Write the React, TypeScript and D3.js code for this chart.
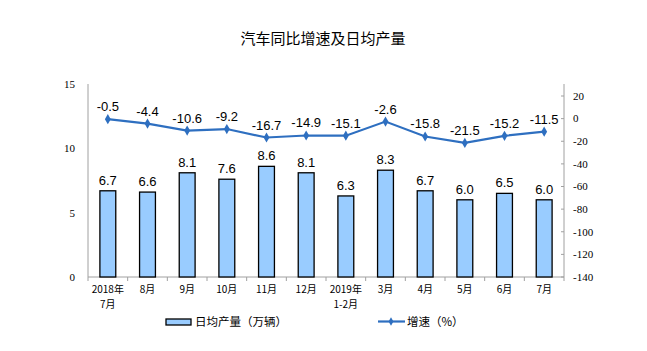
import * as d3 from "d3";

const categories = [
  ["2018年", "7月"],
  ["8月"],
  ["9月"],
  ["10月"],
  ["11月"],
  ["12月"],
  ["2019年", "1-2月"],
  ["3月"],
  ["4月"],
  ["5月"],
  ["6月"],
  ["7月"],
];
const dailyOutput = [6.7, 6.6, 8.1, 7.6, 8.6, 8.1, 6.3, 8.3, 6.7, 6.0, 6.5, 6.0];
const growth = [-0.5, -4.4, -10.6, -9.2, -16.7, -14.9, -15.1, -2.6, -15.8, -21.5, -15.2, -11.5];
const leftTicks = [0, 5, 10, 15];
const rightTicks = [20, 0, -20, -40, -60, -80, -100, -120, -140];

const width = 647;
const height = 351;
const plot = { left: 88, right: 564, top: 84, bottom: 277 };

const SERIF = "'Liberation Serif', 'Times New Roman', serif";
const SANS = "'Liberation Sans', Arial, sans-serif";
const CJK = "'Noto Sans CJK SC', sans-serif";

export default function App() {
  const idx = categories.map((_, i) => i);
  const xScale = d3
    .scaleBand<number>()
    .domain(idx)
    .range([plot.left, plot.right])
    .paddingInner(0.6)
    .paddingOuter(0.3);
  const step = xScale.step();
  const boundaries = d3.range(categories.length + 1).map((i) => plot.left + i * step);

  const yLeft = d3.scaleLinear().domain([0, 15]).range([plot.bottom, plot.top]);
  const yRight = d3.scaleLinear().domain([-140, 20]).range([plot.bottom, 96]);

  const cx = (i: number) => (xScale(i) ?? 0) + xScale.bandwidth() / 2;

  const line = d3
    .line<number>()
    .x((_, i) => cx(i))
    .y((d) => yRight(d));

  const diamond = d3.symbol(d3.symbolDiamond, 30)() || "";

  return (
    <svg
      width={width}
      height={height}
      style={{ position: "absolute", left: 0, top: 0, background: "#fff" }}
    >
      {/* Title */}
      <text x={323} y={44} textAnchor="middle" fontSize={15} fontFamily={CJK} fill="#000">
        汽车同比增速及日均产量
      </text>

      {/* Axes */}
      <line x1={plot.left} x2={plot.left} y1={plot.top} y2={plot.bottom} stroke="#a0a0a0" />
      <line x1={plot.right} x2={plot.right} y1={plot.top} y2={plot.bottom} stroke="#a0a0a0" />
      <line x1={plot.left} x2={plot.right} y1={plot.bottom} y2={plot.bottom} stroke="#a0a0a0" />

      {boundaries.map((b, i) => (
        <line key={i} x1={b} x2={b} y1={plot.bottom} y2={plot.bottom + 4} stroke="#a0a0a0" />
      ))}

      {leftTicks.map((t) => (
        <text
          key={t}
          x={75}
          y={yLeft(t)}
          dy="0.35em"
          textAnchor="end"
          fontSize={11}
          fontFamily={SERIF}
          fill="#000"
        >
          {t}
        </text>
      ))}

      {rightTicks.map((t) => (
        <g key={t}>
          <line x1={plot.right - 3} x2={plot.right} y1={yRight(t)} y2={yRight(t)} stroke="#a0a0a0" />
          <text
            x={573}
            y={yRight(t)}
            dy="0.35em"
            textAnchor="start"
            fontSize={11}
            fontFamily={SERIF}
            fill="#000"
          >
            {t}
          </text>
        </g>
      ))}

      {/* X labels, one text per line */}
      {categories.map((lines, i) =>
        lines.map((l, j) => (
          <text
            key={`${i}-${j}`}
            x={cx(i)}
            y={293 + j * 14.5}
            textAnchor="middle"
            fontSize={10}
            fontFamily={CJK}
            fill="#000"
          >
            {l}
          </text>
        ))
      )}

      {/* Bars */}
      {dailyOutput.map((v, i) => (
        <g key={i}>
          <rect
            x={xScale(i)}
            y={yLeft(v)}
            width={xScale.bandwidth()}
            height={plot.bottom - yLeft(v)}
            fill="#99ccff"
            stroke="#000"
            strokeWidth={1.3}
          />
          <text
            x={cx(i)}
            y={yLeft(v) - 6}
            textAnchor="middle"
            fontSize={13}
            fontFamily={SANS}
            fill="#000"
          >
            {v.toFixed(1)}
          </text>
        </g>
      ))}

      {/* Line */}
      <path d={line(growth) || ""} fill="none" stroke="#2e6fc0" strokeWidth={2.2} />
      {growth.map((v, i) => (
        <g key={i}>
          <path d={diamond} transform={`translate(${cx(i)},${yRight(v)})`} fill="#2e6fc0" />
          <text
            x={cx(i)}
            y={yRight(v) - 8}
            textAnchor="middle"
            fontSize={13}
            fontFamily={SANS}
            fill="#000"
          >
            {v.toFixed(1)}
          </text>
        </g>
      ))}

      {/* Legend */}
      <rect x={166} y={319} width={25} height={6} fill="#99ccff" stroke="#000" strokeWidth={1.3} />
      <text x={195} y={326} fontSize={11.5} fontFamily={CJK} fill="#000">
        日均产量（万辆）
      </text>
      <line x1={378} x2={405} y1={321.5} y2={321.5} stroke="#2e6fc0" strokeWidth={2.2} />
      <path d={d3.symbol(d3.symbolDiamond, 20)() || ""} transform="translate(391,321.5)" fill="#2e6fc0" />
      <text x={407} y={326} fontSize={11.5} fontFamily={CJK} fill="#000">
        增速（%）
      </text>
    </svg>
  );
}
